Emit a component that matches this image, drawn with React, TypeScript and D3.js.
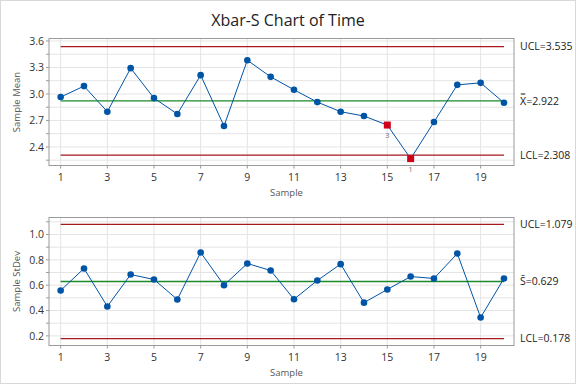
import React from "react";
import * as d3 from "d3";

const samples = d3.range(1, 21);
const means = [2.965, 3.089, 2.799, 3.292, 2.953, 2.773, 3.213, 2.637, 3.382, 3.194, 3.047, 2.908, 2.799, 2.750, 2.648, 2.268, 2.682, 3.103, 3.126, 2.900];
const stdevs = [0.558, 0.732, 0.432, 0.684, 0.645, 0.487, 0.858, 0.600, 0.771, 0.716, 0.489, 0.637, 0.766, 0.462, 0.566, 0.668, 0.653, 0.850, 0.345, 0.653];
const meanLimits = { ucl: 3.535, cl: 2.922, lcl: 2.308 };
const sdLimits = { ucl: 1.079, cl: 0.629, lcl: 0.178 };
const meanTicks = [2.4, 2.7, 3.0, 3.3, 3.6];
const sdTicks = [0.2, 0.4, 0.6, 0.8, 1.0];
const xTicks = [1, 3, 5, 7, 9, 11, 13, 15, 17, 19];
// failed tests: [sample index, test number]
const meanFlags: [number, string][] = [[15, "3"], [16, "1"]];

const FONT = "'Open Sans', 'Noto Sans', sans-serif";
const BLUE = "#0054a6";
const RED = "#a6181c";
const GREEN = "#1a8a2a";

interface PanelProps {
  top: number;
  bottom: number;
  domain: [number, number];
  values: number[];
  ticks: number[];
  gridStep: number;
  limits: { ucl: number; cl: number; lcl: number };
  yLabel: string;
  clLabel: string;
  flags: [number, string][];
  fmt: (v: number) => string;
}

function Panel(p: PanelProps) {
  const left = 49, right = 514;
  const x = d3.scaleLinear().domain([0.5, 20.43]).range([left, right]);
  const y = d3.scaleLinear().domain(p.domain).range([p.bottom, p.top]);
  const grid = d3.range(Math.ceil(p.domain[0] / p.gridStep - 1e-6), Math.floor(p.domain[1] / p.gridStep + 1e-6) + 1).map(k => k * p.gridStep);
  const line = d3.line<number>().x((_, i) => x(samples[i])).y(d => y(d));
  const flagged = new Map(p.flags);
  const xs = x(1), xe = x(20);
  const limitsList: [number, string][] = [[p.limits.ucl, RED], [p.limits.cl, GREEN], [p.limits.lcl, RED]];
  return (
    <g>
      {grid.map((g, i) => (
        <line key={"gy" + i} x1={left} x2={right} y1={y(g)} y2={y(g)} stroke="#e4e4e4" strokeWidth={1} />
      ))}
      {xTicks.map(t => (
        <line key={"gx" + t} x1={x(t)} x2={x(t)} y1={p.top} y2={p.bottom} stroke="#e4e4e4" strokeWidth={1} />
      ))}
      {limitsList.map(([v, c], i) => (
        <line key={"l" + i} x1={xs} x2={xe} y1={y(v)} y2={y(v)} stroke={c} strokeWidth={1.3} />
      ))}
      <path d={line(p.values) || ""} fill="none" stroke={BLUE} strokeWidth={1} />
      {p.values.map((v, i) => {
        const s = samples[i];
        if (flagged.has(s)) {
          return (
            <g key={"p" + i}>
              <rect x={x(s) - 3.5} y={y(v) - 3.5} width={7} height={7} fill="#d0021b" />
              <text x={x(s)} y={y(v) + 13} fontSize={8} fill="#777" textAnchor="middle" fontFamily={FONT}>{flagged.get(s)}</text>
            </g>
          );
        }
        return <circle key={"p" + i} cx={x(s)} cy={y(v)} r={3.3} fill={BLUE} />;
      })}
      <rect x={left} y={p.top} width={right - left} height={p.bottom - p.top} fill="none" stroke="#9a9a9a" strokeWidth={1} />
      {grid.map((g, i) => (
        <line key={"ty" + i} x1={left - 3} x2={left} y1={y(g)} y2={y(g)} stroke="#9a9a9a" />
      ))}
      {p.ticks.map(t => (
        <text key={"yt" + t} x={left - 5} y={y(t)} dy="0.35em" fontSize={10.5} fill="#333" textAnchor="end" fontFamily={FONT}>{p.fmt(t)}</text>
      ))}
      {xTicks.map(t => (
        <g key={"xt" + t}>
          <line x1={x(t)} x2={x(t)} y1={p.bottom} y2={p.bottom + 3} stroke="#9a9a9a" />
          <text x={x(t)} y={p.bottom + 15} fontSize={10.5} fill="#333" textAnchor="middle" fontFamily={FONT}>{t}</text>
        </g>
      ))}
      <text x={(left + right) / 2 + 5} y={p.bottom + 30} fontSize={9.5} fill="#555" textAnchor="middle" fontFamily={FONT}>Sample</text>
      <text transform={`translate(20,${(p.top + p.bottom) / 2}) rotate(-90)`} fontSize={9.5} fill="#555" textAnchor="middle" fontFamily={FONT}>{p.yLabel}</text>
      <text x={520} y={y(p.limits.ucl)} dy="0.35em" fontSize={10.5} fill="#222" fontFamily={FONT}>UCL={p.limits.ucl.toFixed(3)}</text>
      <text x={520} y={y(p.limits.cl)} dy="0.35em" fontSize={10.5} fill="#222" fontFamily={FONT}>{p.clLabel}={p.limits.cl.toFixed(3)}</text>
      <text x={520} y={y(p.limits.lcl)} dy="0.35em" fontSize={10.5} fill="#222" fontFamily={FONT}>LCL={p.limits.lcl.toFixed(3)}</text>
    </g>
  );
}

export default function App() {
  return (
    <svg width={576} height={384} style={{ position: "absolute", left: 0, top: 0, background: "#fff" }}>
      <rect x={0.5} y={0.5} width={575} height={383} fill="#fff" stroke="#d8d8d8" />
      <text x={288} y={26} fontSize={16} fill="#222" textAnchor="middle" fontFamily={FONT}>Xbar-S Chart of Time</text>
      <Panel
        top={38.5}
        bottom={165.5}
        domain={[2.19, 3.628]}
        values={means}
        ticks={meanTicks}
        gridStep={0.15}
        limits={meanLimits}
        yLabel="Sample Mean"
        clLabel={"X\u033F"}
        flags={meanFlags}
        fmt={d3.format(".1f")}
      />
      <Panel
        top={217.5}
        bottom={345.5}
        domain={[0.124, 1.134]}
        values={stdevs}
        ticks={sdTicks}
        gridStep={0.1}
        limits={sdLimits}
        yLabel="Sample StDev"
        clLabel={"S\u0304"}
        flags={[]}
        fmt={d3.format(".1f")}
      />
    </svg>
  );
}
